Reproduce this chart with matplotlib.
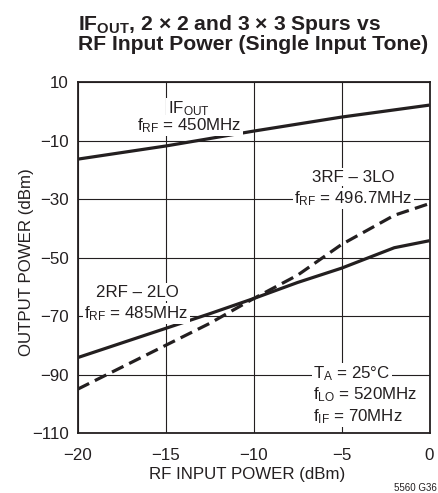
import matplotlib
matplotlib.use("Agg")
import matplotlib.pyplot as plt
from matplotlib import font_manager

# RF input power sweep (dBm) and measured output powers (dBm)
x_if = [-20, -15, -10, -5, 0]
y_if = [-16.3, -11.8, -6.7, -1.9, 2.2]

x_2x2 = [-20, -15, -12.5, -10, -7.5, -5, -2, 0]
y_2x2 = [-84.2, -74.2, -69.2, -64.0, -58.5, -53.6, -46.6, -44.2]

x_3x3 = [-20, -17.5, -15, -12.5, -10, -7.5, -5, -2, 0]
y_3x3 = [-95.0, -87.5, -80.0, -72.5, -64.0, -56.0, -45.5, -35.5, -31.5]

xticks = [-20, -15, -10, -5, 0]
yticks = [-110, -90, -70, -50, -30, -10, 10]

names = set(f.name for f in font_manager.fontManager.ttflist)
fam = 'Liberation Sans Narrow' if 'Liberation Sans Narrow' in names else 'Liberation Sans'
plt.rcParams['font.family'] = [fam, 'DejaVu Sans']
plt.rcParams['mathtext.fontset'] = 'custom'
plt.rcParams['mathtext.rm'] = fam
plt.rcParams['mathtext.it'] = fam
plt.rcParams['mathtext.bf'] = fam + ':bold'
ink = '#231f20'
fs = 12.2

fig = plt.figure(figsize=(4.38, 4.93), dpi=100)
ax = fig.add_axes([77.7/438, 1-433/493, (429.5-77.7)/438, (433-82.3)/493])

ax.plot(x_if, y_if, color=ink, lw=2.3, solid_capstyle='butt')
ax.plot(x_2x2, y_2x2, color=ink, lw=2.3, solid_capstyle='butt')
ax.plot(x_3x3, y_3x3, color=ink, lw=2.3, dashes=(4.0, 2.0))

ax.set_xlim(-20, 0)
ax.set_ylim(-110, 10)
ax.set_xticks(xticks)
ax.set_yticks(yticks)
ax.grid(True, color=ink, lw=0.8)
ax.set_axisbelow(True)
ax.tick_params(length=0, labelsize=12.2, colors=ink)
ax.tick_params(axis='x', pad=10.8)
ax.tick_params(axis='y', pad=6.5)
for s in ax.spines.values():
    s.set_linewidth(1.3)
    s.set_color(ink)
ax.set_xlabel('RF INPUT POWER (dBm)', fontsize=12.2, color=ink)
ax.set_ylabel('OUTPUT POWER (dBm)', fontsize=12.2, color=ink)
ax.xaxis.set_label_coords(0.481, -0.097)
ax.yaxis.set_label_coords(-0.1256, 0.4876)

box = dict(facecolor='white', edgecolor='none', pad=1.0)
def note(x, y, s, ha='center'):
    ax.text(x, y, s, ha=ha, va='baseline', fontsize=fs, color=ink, bbox=box)

note(-13.7, -0.5, r'IF$_{\mathrm{OUT}}$')
note(-13.66, -6.3, r'f$_{\mathrm{RF}}$ = 450MHz')
note(-4.32, -24.0, '3RF – 3LO')
note(-4.32, -31.4, r'f$_{\mathrm{RF}}$ = 496.7MHz')
note(-16.62, -63.3, '2RF – 2LO')
note(-16.66, -70.7, r'f$_{\mathrm{RF}}$ = 485MHz')
note(-6.6, -91.2, r'T$_{\mathrm{A}}$ = 25°C', ha='left')
note(-6.6, -98.6, r'f$_{\mathrm{LO}}$ = 520MHz', ha='left')
note(-6.6, -106.0, r'f$_{\mathrm{IF}}$ = 70MHz', ha='left')

fig.text(78/438, 1-30/493, r'IF$_{\mathbf{OUT}}$, 2 × 2 and 3 × 3 Spurs vs', ha='left', va='baseline',
         fontsize=15.2, fontweight='bold', color=ink)
fig.text(78/438, 1-50/493, 'RF Input Power (Single Input Tone)', ha='left', va='baseline',
         fontsize=15.2, fontweight='bold', color=ink)
fig.text(437/438, 1-491/493, '5560 G36', ha='right', va='baseline', fontsize=7, color=ink)

fig.savefig('out.png', dpi=100)
